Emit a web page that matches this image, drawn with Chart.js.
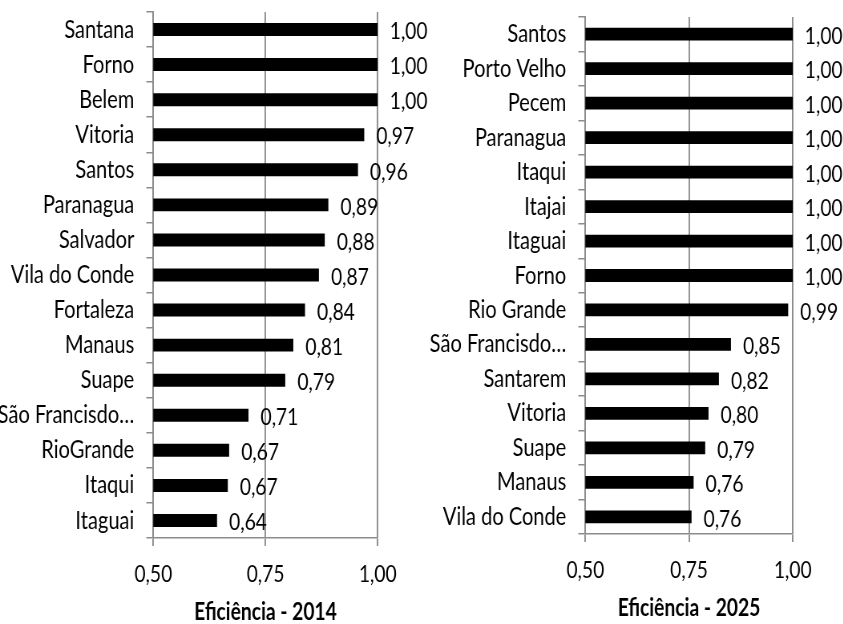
<!DOCTYPE html>
<html>
<head>
<meta charset="utf-8">
<script src="https://cdn.jsdelivr.net/npm/chart.js@4.4.1/dist/chart.umd.min.js"></script>
<style>
  html, body { margin: 0; padding: 0; background: #fff; overflow: hidden; }
  #wrap { position: relative; width: 843px; height: 624px; overflow: hidden; }
  .box { position: absolute; top: 0; height: 624px; transform-origin: 0 0; }
</style>
</head>
<body>
<div id="wrap">
  <div class="box" id="box2014"><canvas id="chart2014"></canvas></div>
  <div class="box" id="box2025"><canvas id="chart2025"></canvas></div>
</div>
<script>
// data
const ports2014 = ['Santana', 'Forno', 'Belem', 'Vitoria', 'Santos', 'Paranagua', 'Salvador',
  'Vila do Conde', 'Fortaleza', 'Manaus', 'Suape', 'São Francisdo…', 'RioGrande', 'Itaqui', 'Itaguai'];
const eff2014 = [1.00, 1.00, 1.00, 0.97, 0.956, 0.89, 0.882, 0.869, 0.838, 0.812, 0.794, 0.712, 0.669, 0.666, 0.642];

const ports2025 = ['Santos', 'Porto Velho', 'Pecem', 'Paranagua', 'Itaqui', 'Itajai', 'Itaguai', 'Forno',
  'Rio Grande', 'São Francisdo…', 'Santarem', 'Vitoria', 'Suape', 'Manaus', 'Vila do Conde'];
const eff2025 = [1.00, 1.00, 1.00, 1.00, 1.00, 1.00, 1.00, 1.00, 0.989, 0.851, 0.822, 0.797, 0.789, 0.761, 0.756];

const xTicks = [0.50, 0.75, 1.00];

const FONT = "Lato, 'Open Sans', sans-serif";
const GRID = '#8c8c8c';
// the original text is tall and narrow: draw wider, then squeeze horizontally
const K = 1.25;

function fmt(v) {
  return v.toFixed(2).replace('.', ',');
}

// value labels to the right of each bar
const barValues = {
  id: 'barValues',
  afterDatasetsDraw(chart) {
    const ctx = chart.ctx;
    const meta = chart.getDatasetMeta(0);
    const data = chart.data.datasets[0].data;
    ctx.save();
    ctx.font = '24px ' + FONT;
    ctx.fillStyle = '#000';
    ctx.textAlign = 'left';
    ctx.textBaseline = 'middle';
    meta.data.forEach((bar, i) => {
      ctx.fillText(fmt(data[i]), bar.x + 12 * K, bar.y + 2);
    });
    ctx.restore();
  }
};

function makeChart(id, labels, values, title, s) {
  const box = document.getElementById('box' + id.slice(5));
  box.style.left = s.left + 'px';
  box.style.width = (s.width * K) + 'px';
  box.style.transform = 'scaleX(' + (1 / K) + ')';

  return new Chart(document.getElementById(id), {
    type: 'bar',
    data: {
      labels: labels,
      datasets: [{
        data: values,
        backgroundColor: '#000',
        barPercentage: 0.37,
        categoryPercentage: 1.0
      }]
    },
    options: {
      indexAxis: 'y',
      responsive: true,
      maintainAspectRatio: false,
      animation: false,
      layout: { padding: { top: s.top, right: s.right * K, left: 0, bottom: 0 } },
      plugins: {
        legend: { display: false },
        tooltip: { enabled: false }
      },
      scales: {
        x: {
          min: 0.5,
          max: 1.0,
          afterBuildTicks: (axis) => { axis.ticks = xTicks.map(v => ({ value: v })); },
          afterFit: (axis) => { axis.height = s.xHeight; },
          grid: { color: GRID, lineWidth: 1.5 * K, tickLength: 8, drawOnChartArea: true },
          border: { color: GRID, width: 1.5 },
          ticks: {
            padding: 14,
            color: '#000',
            font: { family: FONT, size: 24 },
            callback: (v) => fmt(v)
          },
          title: {
            display: true,
            text: title,
            color: '#000',
            font: { family: FONT, size: 24, weight: 'bold', lineHeight: 1.0 },
            padding: { top: 0, bottom: s.titleBottom }
          }
        },
        y: {
          afterFit: (axis) => {
            axis.width = s.yWidth * K;
            axis.paddingTop = 0;
            axis.paddingBottom = 0;
          },
          grid: { color: GRID, lineWidth: 1.5, tickLength: 7 * K, drawOnChartArea: false, offset: true },
          border: { color: GRID, width: 1.5 * K },
          ticks: {
            padding: 12 * K,
            color: '#000',
            font: { family: FONT, size: 25 }
          }
        }
      }
    },
    plugins: [barValues]
  });
}

makeChart('chart2014', ports2014, eff2014, 'Eficiência - 2014',
  { left: 0, width: 430, top: 12, right: 53, xHeight: 86, yWidth: 153, titleBottom: 0 });
makeChart('chart2025', ports2025, eff2025, 'Eficiência - 2025',
  { left: 420, width: 423, top: 17, right: 51, xHeight: 90, yWidth: 165, titleBottom: 4 });
</script>
</body>
</html>
